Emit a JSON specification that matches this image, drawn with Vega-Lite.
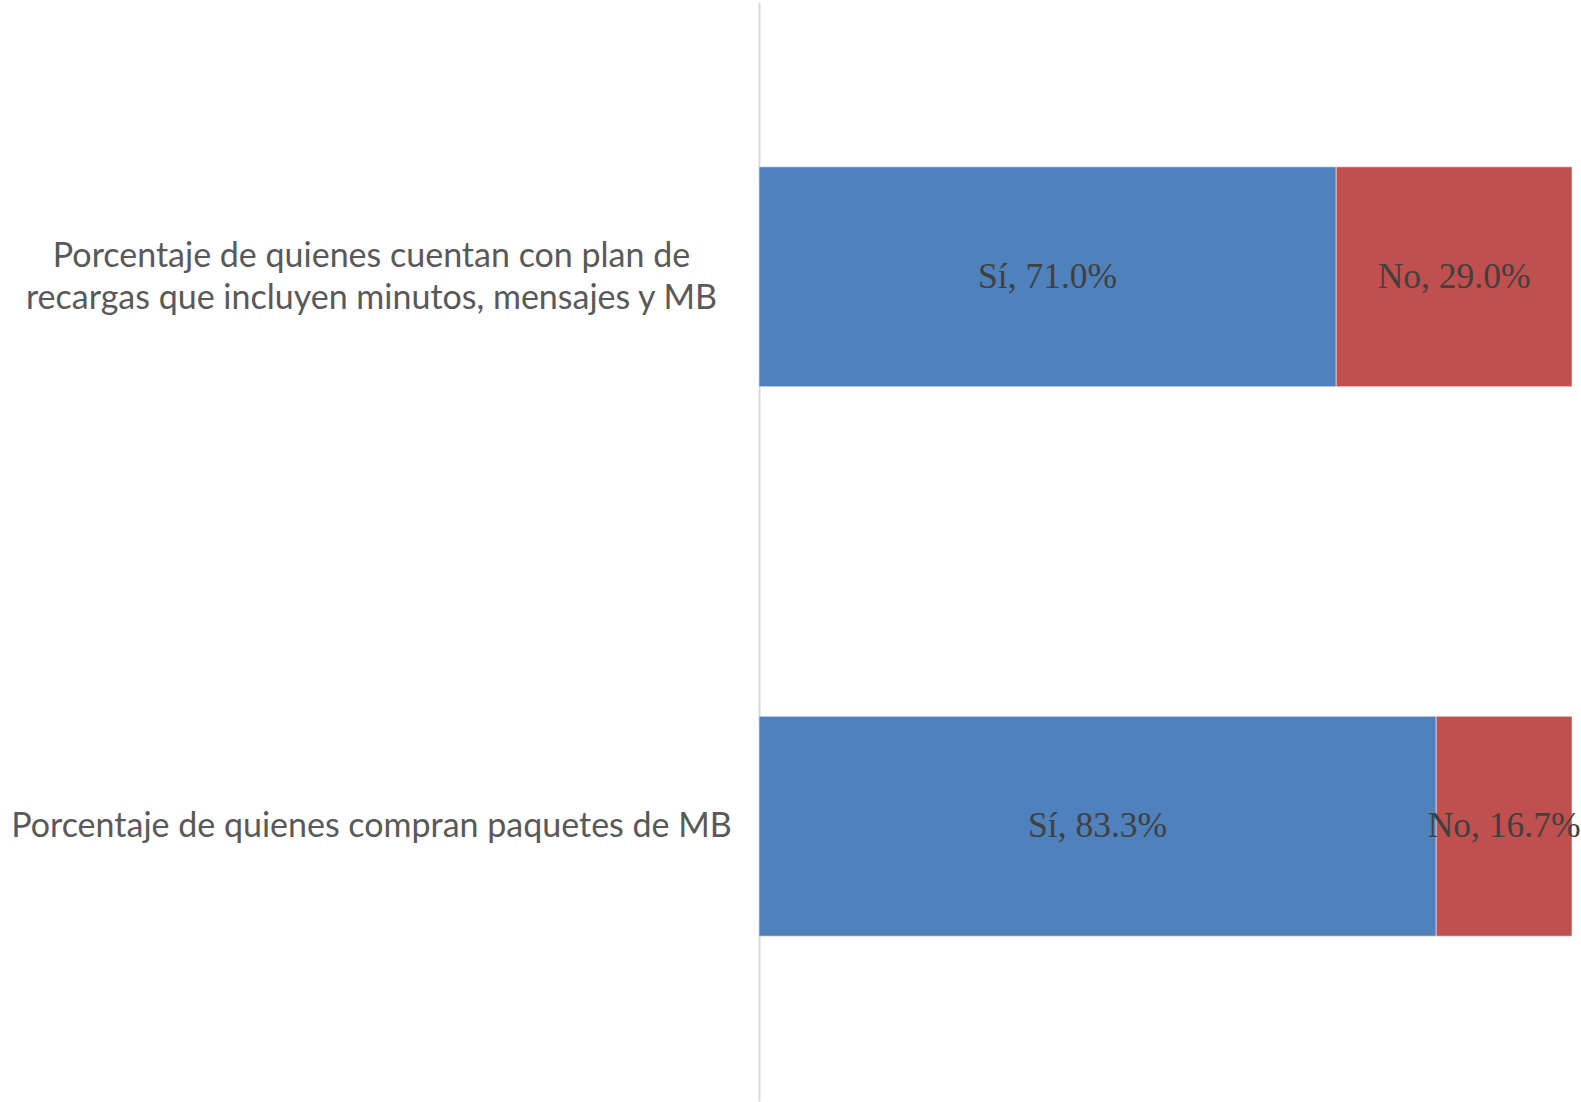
{
  "$schema": "https://vega.github.io/schema/vega-lite/v6.json",
  "width": 813,
  "height": 1099,
  "autosize": "none",
  "padding": {"left": 759, "top": 2, "right": 9, "bottom": 1},
  "background": "#ffffff",
  "config": {"view": {"stroke": null}},
  "data": {
    "values": [
      {"cat": "Porcentaje de quienes cuentan con plan de|recargas que incluyen minutos, mensajes y MB", "resp": "Sí", "ord": 1, "pct": 71.0},
      {"cat": "Porcentaje de quienes cuentan con plan de|recargas que incluyen minutos, mensajes y MB", "resp": "No", "ord": 2, "pct": 29.0},
      {"cat": "Porcentaje de quienes compran paquetes de MB", "resp": "Sí", "ord": 1, "pct": 83.3},
      {"cat": "Porcentaje de quienes compran paquetes de MB", "resp": "No", "ord": 2, "pct": 16.7}
    ]
  },
  "transform": [
    {"calculate": "datum.resp + ', ' + format(datum.pct, '.1f') + '%'", "as": "lbl"}
  ],
  "encoding": {
    "y": {
      "field": "cat",
      "type": "nominal",
      "sort": null,
      "scale": {"paddingInner": 0.6, "paddingOuter": 0.3},
      "axis": {
        "title": null,
        "ticks": false,
        "grid": false,
        "domain": true,
        "domainColor": "#d9d9d9",
        "domainWidth": 2,
        "labelExpr": "split(datum.value, '|')",
        "labelFont": "Lato",
        "labelFontSize": 34,
        "labelColor": "#595959",
        "labelAlign": "center",
        "labelPadding": 388,
        "labelLimit": 0,
        "labelLineHeight": 42,
        "labelOffset": {"expr": "indexof(datum.value, '|') >= 0 ? -20 : 1"}
      }
    },
    "x": {
      "field": "pct",
      "type": "quantitative",
      "stack": "zero",
      "scale": {"domain": [0, 100], "nice": false},
      "axis": null
    },
    "order": {"field": "ord", "type": "quantitative"}
  },
  "layer": [
    {
      "mark": {"type": "bar", "stroke": "#ffffff", "strokeWidth": 1, "strokeOpacity": 0.5},
      "encoding": {
        "color": {
          "field": "resp",
          "type": "nominal",
          "scale": {"domain": ["Sí", "No"], "range": ["#4F81BD", "#C0504D"]},
          "legend": null
        }
      }
    },
    {
      "mark": {"type": "text", "font": "Liberation Serif", "fontSize": 35.5, "color": "#404040", "align": "center", "baseline": "middle"},
      "encoding": {
        "x": {"field": "pct", "type": "quantitative", "stack": "zero", "bandPosition": 0.5},
        "text": {"field": "lbl", "type": "nominal"}
      }
    }
  ]
}
